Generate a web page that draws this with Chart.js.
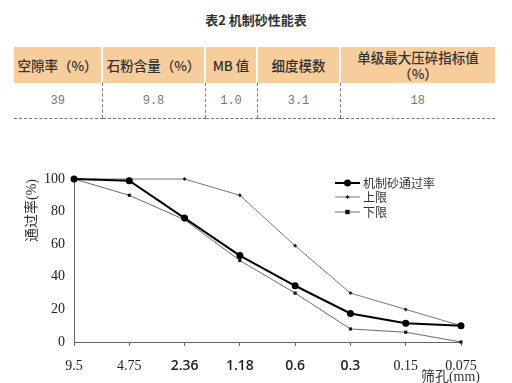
<!DOCTYPE html>
<html><head><meta charset="utf-8">
<script src="https://cdn.jsdelivr.net/npm/chart.js@4.4.1/dist/chart.umd.min.js"></script>
<style>
html,body{margin:0;padding:0;background:#fff;width:512px;height:383px;overflow:hidden;}
#cv{position:absolute;left:0;top:0;}
#ttl{position:absolute;left:0;top:10px;width:512px;text-align:center;font:bold 13px "Noto Sans CJK SC";color:#333;}
table{position:absolute;left:14px;top:47px;border-collapse:collapse;table-layout:fixed;width:481px;}
th{background:#f8cd9c;height:36px;padding:0;font:13.5px/16px "Noto Sans CJK SC";color:#333;font-weight:500;border-left:2px solid #fff;text-align:center;}
th:first-child{border-left:none;}
td{height:35px;padding:0;text-align:center;font:12px "Liberation Mono","DejaVu Sans Mono";color:#777;border-bottom:1px dashed #777;border-left:1px dashed #777;}
td:first-child{border-left:none;}
</style></head>
<body>
<div id="ttl">表2&nbsp;机制砂性能表</div>
<table id="tbl"><colgroup><col style="width:88px"><col style="width:103px"><col style="width:52px"><col style="width:83px"><col style="width:155px"></colgroup>
<thead><tr id="hrow"></tr></thead><tbody><tr id="drow"></tr></tbody></table>
<canvas id="cv" width="512" height="383"></canvas>
<script>
// ---- table data ----
const tableHeaders = ['空隙率（%）','石粉含量（%）','MB 值','细度模数','单级最大压碎指标值<br>（%）'];
const tableValues = ['39','9.8','1.0','3.1','18'];

// ---- chart data ----
const sieveLabels = ['9.5','4.75','2.36','1.18','0.6','0.3','0.15','0.075'];
const passRate = [100, 99, 76, 53, 34.5, 17.5, 11.5, 10];
const upperLimit = [100, 100, 100, 90, 59, 30, 20, 10];
const lowerLimit = [100, 90, 75, 50, 30, 8, 6, 0];
const seriesNames = ['机制砂通过率','上限','下限'];
const xTitle = '筛孔(mm)';
const yTitle = '通过率(%)';

document.getElementById('hrow').innerHTML = tableHeaders.map(h => '<th>' + h + '</th>').join('');
document.getElementById('drow').innerHTML = tableValues.map(v => '<td>' + v + '</td>').join('');

const serif = '"Liberation Serif","Noto Sans CJK SC",serif';
const cjk = '"Noto Sans CJK SC",serif';

const legendPlugin = {
  id: 'insideLegend',
  beforeDraw(chart) {
    // shift the x-axis title a little to the right of the plot edge, as in the reference
    const s = chart.scales.x;
    if (!s._shiftedTitle) {
      const orig = s.drawTitle;
      s.drawTitle = function () {
        const ctx = this.ctx;
        ctx.save(); ctx.translate(19, 0); orig.apply(this, arguments); ctx.restore();
      };
      s._shiftedTitle = true;
    }
  },
  afterDraw(chart) {
    const ctx = chart.ctx;
    const x0 = 335, x1 = 360, tx = 363;
    const rows = [183, 197, 212];
    chart.data.datasets.forEach((ds, i) => {
      const y = rows[i];
      ctx.save();
      ctx.strokeStyle = ds.borderColor;
      ctx.lineWidth = ds.borderWidth;
      ctx.beginPath(); ctx.moveTo(x0, y); ctx.lineTo(x1, y); ctx.stroke();
      const cx = (x0 + x1) / 2, r = ds.pointRadius;
      ctx.fillStyle = ds.pointBackgroundColor;
      ctx.beginPath();
      if (ds.pointStyle === 'circle') ctx.arc(cx, y, r, 0, Math.PI * 2);
      else if (ds.pointStyle === 'rect') ctx.rect(cx - r, y - r, 2 * r, 2 * r);
      else { ctx.moveTo(cx, y - r); ctx.lineTo(cx + r, y); ctx.lineTo(cx, y + r); ctx.lineTo(cx - r, y); ctx.closePath(); }
      ctx.fill();
      ctx.fillStyle = '#333';
      ctx.font = '12px ' + cjk;
      ctx.textBaseline = 'middle';
      ctx.textAlign = 'left';
      ctx.fillText(ds.label, tx, y);
      ctx.restore();
    });
  }
};

new Chart(document.getElementById('cv'), {
  type: 'line',
  data: {
    labels: sieveLabels,
    datasets: [
      { label: seriesNames[0], data: passRate, borderColor: '#000', borderWidth: 2, pointStyle: 'circle', pointRadius: 3.5, pointBackgroundColor: '#000', pointBorderWidth: 0, clip: false },
      { label: seriesNames[1], data: upperLimit, borderColor: '#555', borderWidth: 0.8, pointStyle: 'rectRot', pointRadius: 2, pointBackgroundColor: '#222', pointBorderWidth: 0, clip: false },
      { label: seriesNames[2], data: lowerLimit, borderColor: '#444', borderWidth: 0.8, pointStyle: 'rect', pointRadius: 2.2, pointBackgroundColor: '#111', pointBorderWidth: 0, clip: false }
    ]
  },
  options: {
    responsive: false,
    animation: false,
    devicePixelRatio: 1,
    layout: { padding: { top: 179, right: 51, bottom: 0, left: 0 } },
    plugins: { legend: { display: false }, tooltip: { enabled: false } },
    elements: { line: { tension: 0 } },
    scales: {
      x: {
        type: 'category', offset: false,
        grid: { drawOnChartArea: false, drawTicks: true, tickLength: 4, color: '#666' },
        border: { color: '#666', width: 1 },
        ticks: {
          autoSkip: false, maxRotation: 0, color: '#222', padding: 12,
          font: (c) => (c.index >= 2 && c.index <= 5) ? { family: '"Open Sans","Noto Sans",sans-serif', size: 14, weight: '600' } : { family: serif, size: 14 }
        },
        title: { display: true, text: xTitle, align: 'end', color: '#333', font: { family: serif, size: 14, lineHeight: 1.2 }, padding: { top: 0, bottom: -3 } },
        afterFit: (s) => { s.height = 41; }
      },
      y: {
        min: 0, max: 100,
        grid: { drawOnChartArea: false, drawTicks: false },
        border: { color: '#666', width: 1 },
        ticks: { stepSize: 20, color: '#222', padding: 9, font: { family: serif, size: 14 } },
        title: { display: true, text: yTitle, align: 'end', color: '#333', font: { family: serif, size: 14, lineHeight: 1.2 }, padding: { top: 24, bottom: 0 } },
        afterFit: (s) => { s.width = 74; }
      }
    }
  },
  plugins: [legendPlugin]
});
</script>
</body></html>
